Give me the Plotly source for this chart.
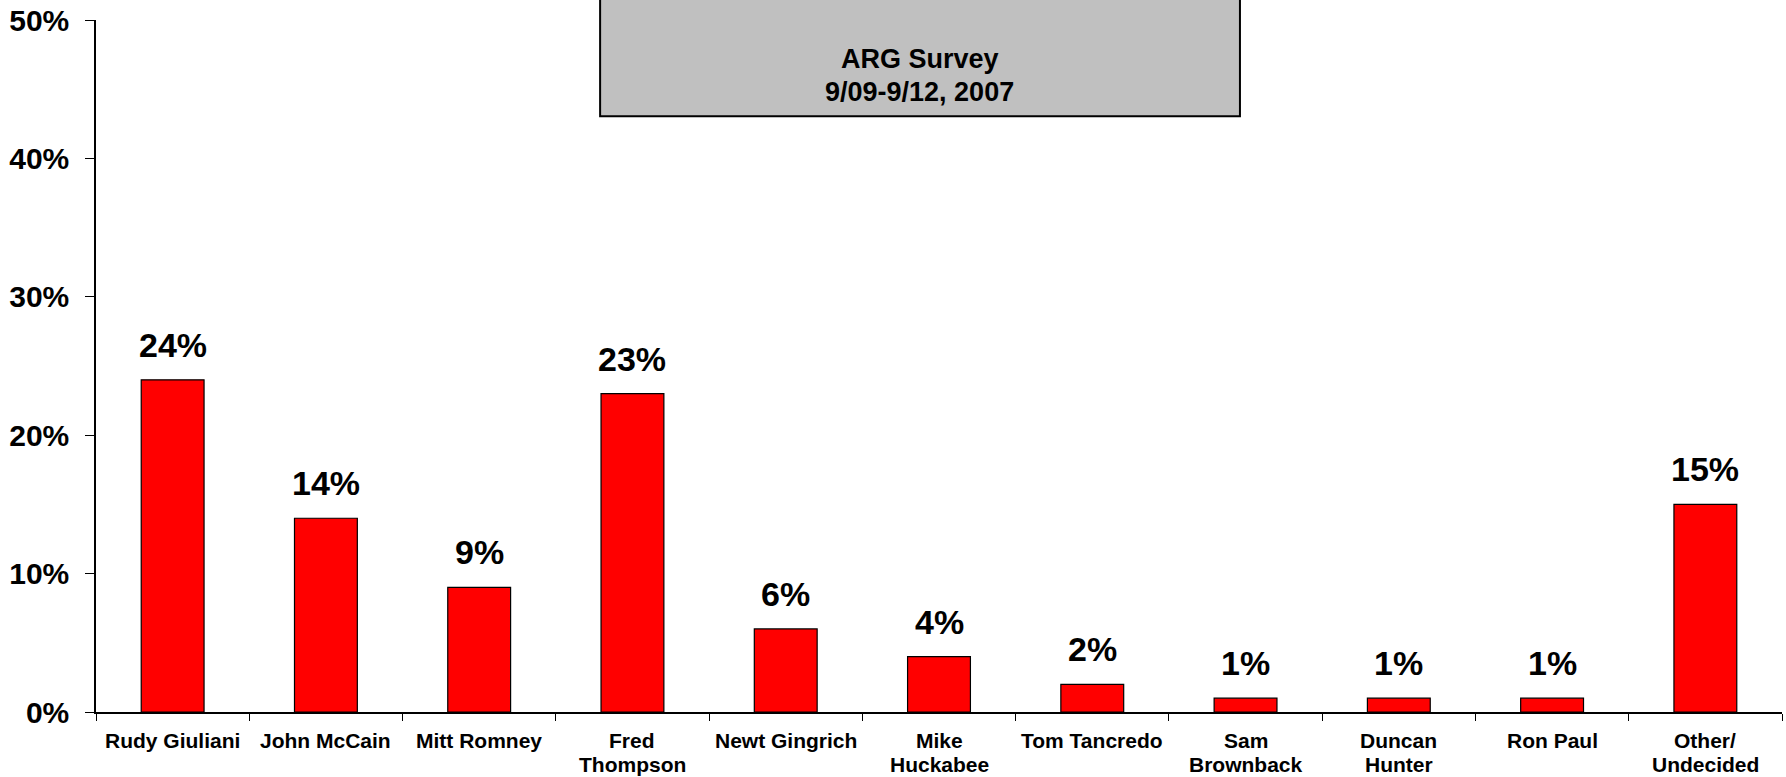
import plotly.graph_objects as go

candidates = [
    "Rudy Giuliani", "John McCain", "Mitt Romney", "Fred<br>Thompson",
    "Newt Gingrich", "Mike<br>Huckabee", "Tom Tancredo", "Sam<br>Brownback",
    "Duncan<br>Hunter", "Ron Paul", "Other/<br>Undecided",
]
support = [24, 14, 9, 23, 6, 4, 2, 1, 1, 1, 15]
y_ticks = [0, 10, 20, 30, 40, 50]
y_tick_text = ["0%", "10%", "20%", "30%", "40%", "50%"]
box_lines = ["ARG Survey", "9/09-9/12, 2007"]

FONT = "Liberation Sans, Arial, sans-serif"

fig = go.Figure()
fig.add_trace(go.Bar(
    x=candidates, y=support,
    marker=dict(color="#FF0000", line=dict(color="black", width=1.2)),
    width=0.41,
    showlegend=False,
    hoverinfo="skip",
))

# value labels above bars
for name, val in zip(candidates, support):
    fig.add_annotation(
        x=name, y=val, text=f"{val}%", showarrow=False,
        yanchor="bottom", yshift=14,
        font=dict(family=FONT, size=34, color="black", weight="bold"),
    )

# category labels, one annotation per line (tighter line spacing than tick labels)
for name in candidates:
    for i, line in enumerate(name.split("<br>")):
        fig.add_annotation(
            x=name, xref="x", yref="paper", y=0, text=line, showarrow=False,
            yanchor="middle", yshift=-28.5 - 24 * i,
            font=dict(family=FONT, size=21, color="black", weight="bold"),
        )

# grey title box (top is cut off in the reference)
fig.add_shape(type="rect", xref="paper", yref="paper",
              x0=0.299, x1=0.6785, y0=0.861, y1=1.2,
              fillcolor="#C0C0C0", line=dict(color="black", width=2),
              layer="above")
for text, ypos in zip(box_lines, [0.944, 0.896]):
    fig.add_annotation(
        xref="paper", yref="paper", x=0.4887, y=ypos, text=text,
        showarrow=False, yanchor="middle",
        font=dict(family=FONT, size=27, color="black", weight="bold"),
    )

fig.update_layout(
    width=1786, height=777,
    margin=dict(t=20, b=65, l=96, r=4),
    plot_bgcolor="white",
    paper_bgcolor="white",
    bargap=0.59,
    font=dict(family=FONT, color="black"),
)
fig.update_xaxes(
    showgrid=False, showline=True, linecolor="black", linewidth=1.5,
    ticks="outside", tickson="boundaries", ticklen=7, tickcolor="black",
    showticklabels=False,
)
fig.update_yaxes(
    range=[0, 50], tickvals=y_ticks, ticktext=y_tick_text,
    showgrid=False, showline=True, linecolor="black", linewidth=1.5,
    ticks="outside", ticklen=9, tickcolor="black", zeroline=False,
    tickfont=dict(family=FONT, size=30, color="black", weight="bold"),
    ticklabelstandoff=10,
)

fig.write_html("out.html", config={"displayModeBar": False},
               post_script="document.body.style.margin='0';")
